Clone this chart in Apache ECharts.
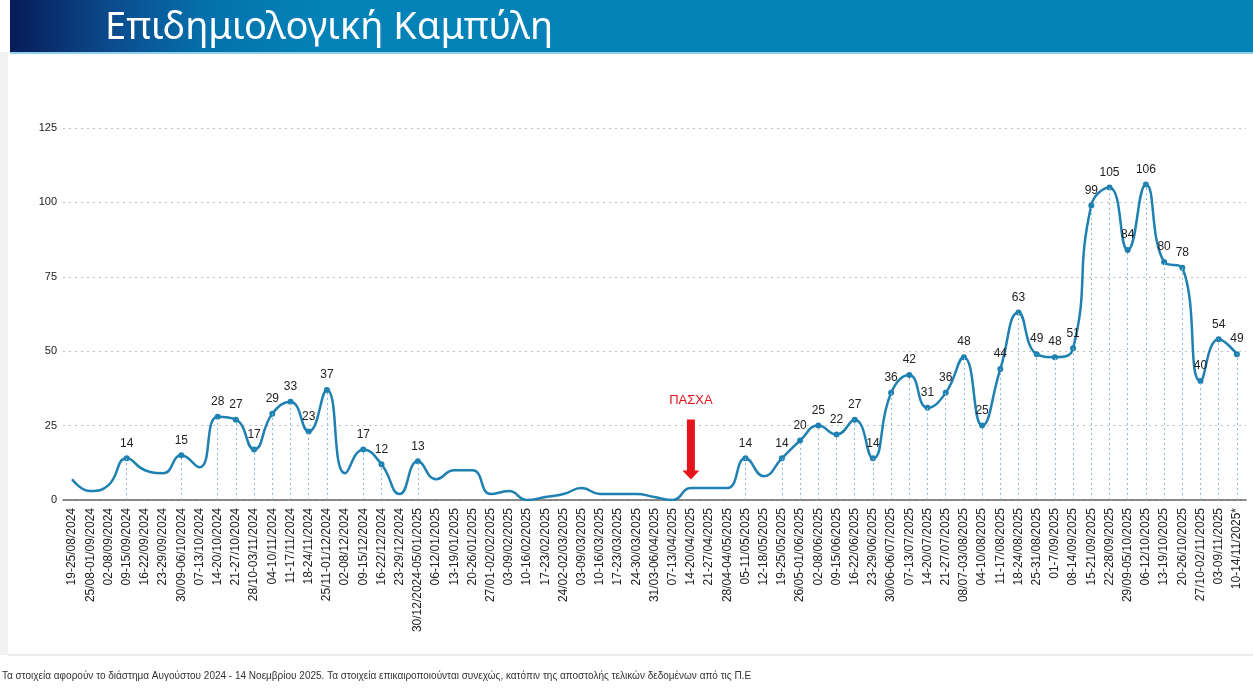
<!DOCTYPE html>
<html>
<head>
<meta charset="utf-8">
<title>Επιδημιολογική Καμπύλη</title>
<script src="https://cdn.jsdelivr.net/npm/echarts@6/dist/echarts.min.js"></script>
<style>
html, body { margin: 0; padding: 0; background: #fff; }
#chart { width: 1253px; height: 689px; }
</style>
</head>
<body>
<div id="chart"></div>
<script>
var byId = function(id){
	return document.getElementById(id);
};

// εβδομάδες (άξονας x)
var weeks = [
	'19-25/08/2024', '25/08-01/09/2024', '02-08/09/2024', '09-15/09/2024', '16-22/09/2024',
	'23-29/09/2024', '30/09-06/10/2024', '07-13/10/2024', '14-20/10/2024', '21-27/10/2024',
	'28/10-03/11/2024', '04-10/11/2024', '11-17/11/2024', '18-24/11/2024', '25/11-01/12/2024',
	'02-08/12/2024', '09-15/12/2024', '16-22/12/2024', '23-29/12/2024', '30/12/2024-05/01/2025',
	'06-12/01/2025', '13-19/01/2025', '20-26/01/2025', '27/01-02/02/2025', '03-09/02/2025',
	'10-16/02/2025', '17-23/02/2025', '24/02-02/03/2025', '03-09/03/2025', '10-16/03/2025',
	'17-23/03/2025', '24-30/03/2025', '31/03-06/04/2025', '07-13/04/2025', '14-20/04/2025',
	'21-27/04/2025', '28/04-04/05/2025', '05-11/05/2025', '12-18/05/2025', '19-25/05/2025',
	'26/05-01/06/2025', '02-08/06/2025', '09-15/06/2025', '16-22/06/2025', '23-29/06/2025',
	'30/06-06/07/2025', '07-13/07/2025', '14-20/07/2025', '21-27/07/2025', '08/07-03/08/2025',
	'04-10/08/2025', '11-17/08/2025', '18-24/08/2025', '25-31/08/2025', '01-7/09/2025',
	'08-14/09/2025', '15-21/09/2025', '22-28/09/2025', '29/09-05/10/2025', '06-12/10/2025',
	'13-19/10/2025', '20-26/10/2025', '27/10-02/11/2025', '03-09/11/2025', '10-14/11/2025*'
];

// κρούσματα ανά εβδομάδα
var cases = [
	7, 3, 5, 14, 10, 9, 15, 11, 28, 27,
	17, 29, 33, 23, 37, 9, 17, 12, 2, 13,
	7, 10, 10, 2, 3, 0, 1, 2, 4, 2,
	2, 2, 1, 0, 4, 4, 4, 14, 8, 14,
	20, 25, 22, 27, 14, 36, 42, 31, 36, 48,
	25, 44, 63, 49, 48, 51, 99, 105, 84, 106,
	80, 78, 40, 54, 49
];

// εβδομάδες με ετικέτα τιμής (θέση στον πίνακα)
var labeledIdx = [3, 6, 8, 9, 10, 11, 12, 13, 14, 16, 17, 19, 37,
	39, 40, 41, 42, 43, 44, 45, 46, 47, 48, 49, 50, 51, 52, 53, 54,
	55, 56, 57, 58, 59, 60, 61, 62, 63, 64];

var yTicks = [0, 25, 50, 75, 100, 125];

var easterWeek = '14-20/04/2025';

var lineColor = '#1f80b2';
var font = '"Liberation Sans", Arial, sans-serif';

var seriesData = cases.map(function(v, i){
	var shown = labeledIdx.indexOf(i) >= 0;
	return {
		value: v,
		symbol: shown ? 'circle' : 'none',
		label: { show: shown }
	};
});

var dropLines = labeledIdx.map(function(i){
	return [{ coord: [weeks[i], 0] }, { coord: [weeks[i], cases[i]] }];
});

var chartOption = {
	animation: false,
	textStyle: { fontFamily: font },
	grid: {
		left: 63,
		right: 7,
		top: 128,
		bottom: 189
	},
	xAxis: [{
		type: 'category',
		data: weeks,
		boundaryGap: true,
		axisLine: { lineStyle: { color: '#666', width: 1.5 } },
		axisTick: { show: false },
		axisLabel: {
			interval: 0,
			rotate: 90,
			fontSize: 12,
			color: '#222',
			margin: 8
		}
	}],
	yAxis: [{
		type: 'value',
		min: yTicks[0],
		max: yTicks[yTicks.length - 1],
		interval: 25,
		axisLine: { show: false },
		axisTick: { show: false },
		axisLabel: { fontSize: 11, color: '#222', margin: 6 },
		splitLine: { lineStyle: { color: '#bdbdbd', type: [2, 4], width: 1 } }
	}],
	series: [{
		name: 'Κρούσματα',
		type: 'line',
		data: seriesData,
		smooth: 0.5,
		symbolSize: 6,
		lineStyle: { color: lineColor, width: 2.5 },
		itemStyle: { color: lineColor },
		label: {
			position: 'top',
			distance: 6,
			fontSize: 12,
			color: '#222'
		},
		markLine: {
			silent: true,
			symbol: 'none',
			label: { show: false },
			lineStyle: { color: '#8dbbd6', type: [2, 3], width: 1 },
			data: dropLines
		},
		markPoint: {
			silent: true,
			data: [{
				coord: [easterWeek, 17],
				symbol: 'path://M4.5,0 L12.5,0 L12.5,51 L17,51 L8.5,60 L0,51 L4.5,51 Z',
				symbolSize: [17, 60],
				itemStyle: { color: '#e5131b' },
				label: {
					show: true,
					position: 'top',
					distance: 12,
					formatter: 'ΠΑΣΧΑ',
					color: '#e5131b',
					fontSize: 13
				}
			}]
		},
		z: 3
	}],
	graphic: [
		// λωρίδα αριστερά και κάτω όριο πλαισίου
		{ type: 'rect', shape: { x: 0, y: 52, width: 8, height: 603 }, style: { fill: '#f2f2f2' }, silent: true },
		{ type: 'rect', shape: { x: 8, y: 654, width: 1245, height: 2 }, style: { fill: '#ececec' }, silent: true },
		// μπάρα τίτλου
		{
			type: 'rect',
			shape: { x: 10, y: 0, width: 1243, height: 52 },
			style: {
				fill: new echarts.graphic.LinearGradient(0, 0, 1, 0, [
					{ offset: 0, color: '#071b57' },
					{ offset: 0.08, color: '#0c4a8c' },
					{ offset: 0.16, color: '#0472ac' },
					{ offset: 0.25, color: '#0382b7' },
					{ offset: 1, color: '#0383b7' }
				])
			},
			silent: true
		},
		{ type: 'rect', shape: { x: 10, y: 52, width: 1243, height: 2 }, style: { fill: '#8fd0ee' }, silent: true },
		{
			type: 'text',
			left: 105,
			top: 9,
			style: {
				text: 'Επιδημιολογική Καμπύλη',
				fill: '#fff',
				fontSize: 38,
				fontFamily: '"Noto Sans", "Open Sans", sans-serif',
				fontWeight: 'normal'
			},
			silent: true
		},
		// υποσημείωση
		{
			type: 'text',
			left: 2,
			top: 671,
			style: {
				text: 'Τα στοιχεία αφορούν το διάστημα Αυγούστου 2024 - 14 Νοεμβρίου 2025. Τα στοιχεία επικαιροποιούνται συνεχώς, κατόπιν της αποστολής τελικών δεδομένων από τις Π.Ε',
				fill: '#333',
				fontSize: 10,
				fontFamily: '"Liberation Sans Narrow", "Liberation Sans", Arial, sans-serif'
			},
			silent: true
		}
	]
};

var lineChart = echarts.init(byId('chart'));
lineChart.setOption(chartOption);
</script>
</body>
</html>
